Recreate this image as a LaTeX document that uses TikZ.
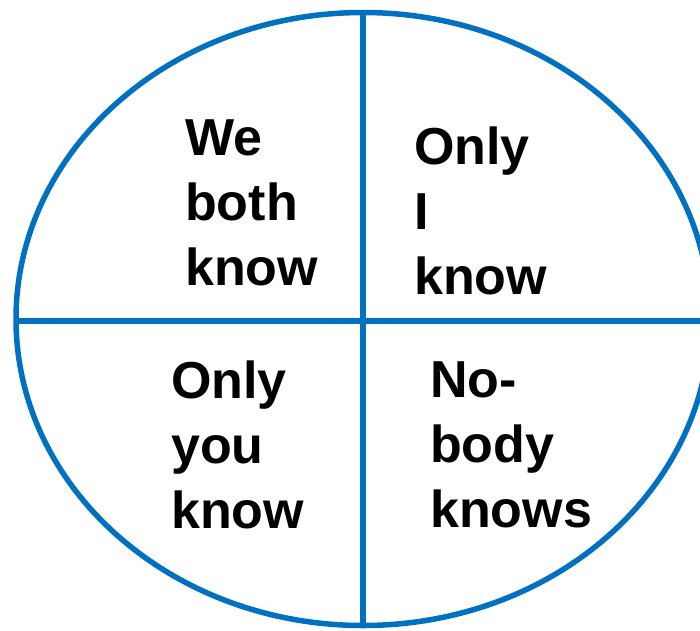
\documentclass[tikz,border=0pt]{standalone}
\usepackage{fontspec}
\setmainfont{Liberation Sans}
\definecolor{ringblue}{HTML}{0070C0}
\begin{document}
\begin{tikzpicture}[x=1pt,y=-1pt,
  ring/.style={draw=ringblue,line width=5.5pt},
  label/.style={anchor=base west,inner sep=0pt,align=left,
    font={\fontsize{52}{65}\selectfont\bfseries},text=black}]
\useasboundingbox (0,0) rectangle (700,630);
\clip (0,0) rectangle (700,630);
\draw[ring] (363,319) ellipse [x radius=347, y radius=306.5];
\coordinate (top) at (363,12.5);
\coordinate (bottom) at (363,625.5);
\coordinate (left) at (16,321);
\coordinate (right) at (712,321);
\draw[ring] (top) -- (bottom);
\draw[ring] (left) -- (right);
\node[label] (tl) at (185,285) {We\\both\\know};
\node[label] (tr) at (414,294) {Only\\I\\know};
\node[label] (bl) at (171,528) {Only\\you\\know};
\node[label] (br) at (430,527) {No-\\body\\knows};
\end{tikzpicture}
\end{document}
